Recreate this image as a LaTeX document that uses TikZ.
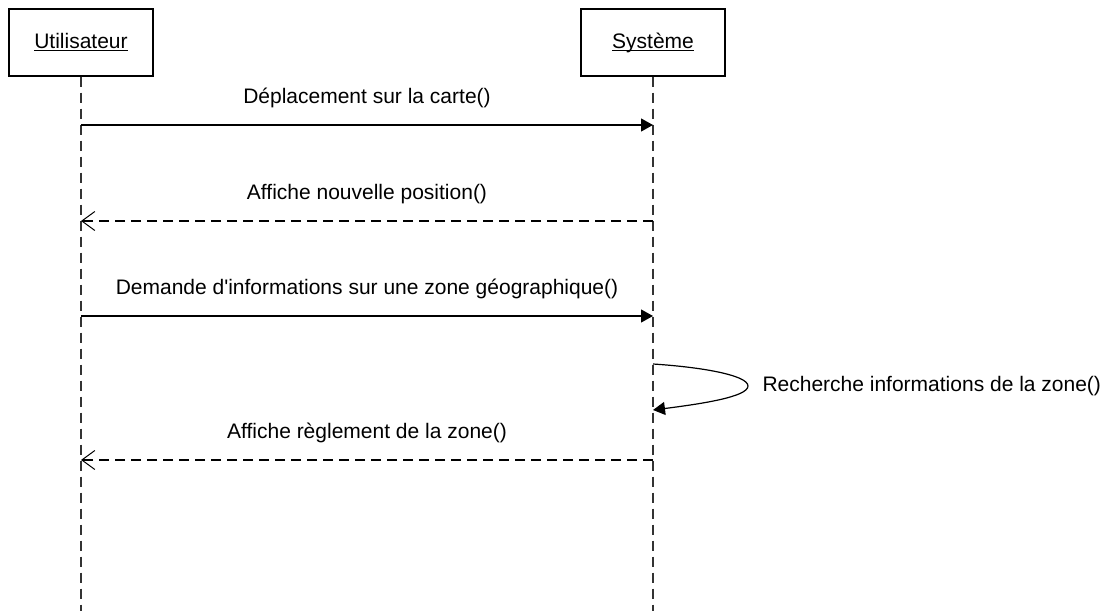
\documentclass[tikz,border=0pt]{standalone}
\usepackage{fontspec}
\setmainfont{Liberation Sans}
\usepackage{tikz}
\usetikzlibrary{arrows.meta}
\newcommand{\objname}[1]{\underline{\smash{#1}}\vphantom{S}}

\begin{document}
\begin{tikzpicture}[x=1pt,y=-1pt,
    font=\fontsize{21}{25}\selectfont,
    objbox/.style={draw,line width=1.2pt,minimum width=144pt,minimum height=67pt,inner sep=0pt},
    lifeline/.style={line width=1.3pt,dash pattern=on 10pt off 6pt,black!80},
    callmsg/.style={line width=1.2pt,-{Triangle[length=12pt,width=13pt]}},
    replymsg/.style={line width=1.2pt,dash pattern=on 10pt off 6pt,-{Straight Barb[length=13pt,width=19pt,line width=1pt]}},
    msglabel/.style={above=13pt,inner sep=3.33pt}]
  \useasboundingbox (0,0) rectangle (1106,611);

  % objects and lifelines
  \node[objbox] (user) at (81,42.5) {\objname{Utilisateur}};
  \node[objbox] (sys) at (653,42.5) {\objname{Système}};
  \coordinate (userend) at (81,611);
  \coordinate (sysend) at (653,611);
  \draw[lifeline] (user.south) -- (userend);
  \draw[lifeline] (sys.south) -- (sysend);

  % message levels
  \coordinate (m1) at (0,125);
  \coordinate (m2) at (0,221);
  \coordinate (m3) at (0,316);
  \coordinate (m4a) at (0,364);
  \coordinate (m4b) at (0,410);
  \coordinate (m5) at (0,460);
  \coordinate (looptip) at (748,386);

  \draw[callmsg] (user |- m1) -- node[msglabel] {Déplacement sur la carte()} (sys |- m1);
  \draw[replymsg] (sys |- m2) -- node[msglabel] {Affiche nouvelle position()} (user |- m2);
  \draw[callmsg] (user |- m3) -- node[msglabel] {Demande d\textquotesingle informations sur une zone géographique()} (sys |- m3);
  \draw[callmsg] (sys |- m4a) .. controls +(47,3) and +(0,-11) .. (looptip)
    .. controls +(0,11) and +(47,-6) .. (sys |- m4b);
  \node[right=11pt] (looplabel) at (looptip) {Recherche informations de la zone()};
  \draw[replymsg] (sys |- m5) -- node[msglabel] {Affiche règlement de la zone()} (user |- m5);
\end{tikzpicture}
\end{document}
